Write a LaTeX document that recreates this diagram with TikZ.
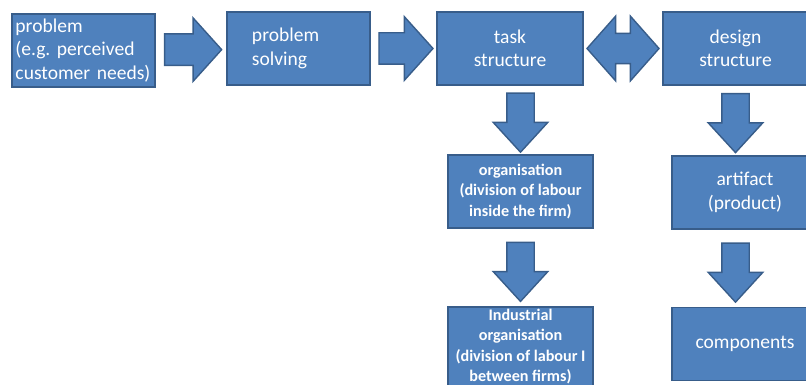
\documentclass[tikz,border=0pt]{standalone}
\usepackage{fontspec}
\setmainfont{Carlito}
\usetikzlibrary{calc,shapes.arrows}

\definecolor{boxblue}{HTML}{4F81BD}
\definecolor{edgeblue}{HTML}{385D8A}

\begin{document}
\begin{tikzpicture}[x=0.025cm, y=-0.025cm]

    % Keeps the page at the size of the original picture
    \useasboundingbox (0, 0) rectangle (806, 385);

    % Looks of the boxes and of the block arrows in between
    \tikzset{
        block/.style={draw=edgeblue, fill=boxblue, line width=1pt,
            text=white, minimum height=1.825cm, inner sep=0pt,
            font=\fontsize{13.9}{16.7}\selectfont},
        smallblock/.style={block, font=\fontsize{11.5}{14.6}\selectfont\bfseries},
        fatarrow/.style={draw=edgeblue, fill=boxblue, line width=1pt,
            inner xsep=0pt},
        rightarrow/.style={fatarrow, single arrow, inner ysep=0.375cm,
            single arrow head extend=0.4cm, single arrow tip angle=96,
            single arrow head indent=0pt},
        downarrow/.style={fatarrow, single arrow, shape border rotate=270,
            inner xsep=0.325cm, inner ysep=0pt, minimum height=1.475cm,
            single arrow head extend=0.34cm, single arrow tip angle=85,
            single arrow head indent=0pt},
        botharrow/.style={fatarrow, double arrow, inner ysep=0.36cm,
            double arrow head extend=0.43cm, double arrow tip angle=97,
            double arrow head indent=0pt}
    }

    % Top row, from the problem to the design
    \node[block, minimum width=3.575cm, text width=3.4cm, inner xsep=0.0875cm,
        align=left] (problem) at (83.5, 50.5)
        {problem\\(e.g.\ perceived\\customer needs)};
    \node[block, minimum width=3.575cm, text width=2.325cm, align=left]
        (solving) at (298.5, 48.5) {problem\\solving};
    \node[block, minimum width=3.65cm, align=center]
        (task) at (510, 48.5) {task\\structure};
    \node[block, minimum width=3.625cm, align=center]
        (design) at (735.5, 48.5) {design\\structure};

    % Column under the task structure
    \node[smallblock, minimum width=3.625cm, align=center]
        (firm) at (520.5, 191.5) {organisation\\(division of labour\\inside the firm)};
    \node[smallblock, minimum width=3.625cm, minimum height=1.975cm, align=center]
        (industry) at (520.5, 346.5)
        {Industrial\\organisation\\(division of labour I\\between firms)};

    % Column under the design structure
    \node[block, minimum width=3.65cm, align=center]
        (artifact) at (745, 192.5) {artifact\\(product)};
    \node[block, minimum width=3.65cm, align=center]
        (components) at (745, 344) {components};

    % Block arrows between the boxes
    \node[rightarrow, minimum height=1.425cm] (arrow1)
        at ($(problem.east)!0.43!(solving.west)$) {};
    \node[rightarrow, minimum height=1.35cm] (arrow2)
        at ($(solving.east)!0.43!(task.west)$) {};
    \node[botharrow, minimum height=1.8cm] (arrow3)
        at ($(task.east)!0.5!(design.west)$) {};
    \node[downarrow] (arrow4)
        at ($(task.south -| firm.north)!0.43!(firm.north)$) {};
    \node[downarrow] (arrow5)
        at ($(firm.south)!0.46!(industry.north)$) {};
    \node[downarrow] (arrow6)
        at ($(design.south)!0.43!(artifact.north -| design.south)$) {};
    \node[downarrow] (arrow7)
        at ($(artifact.south -| design.south)!0.46!(components.north -| design.south)$) {};

\end{tikzpicture}
\end{document}
